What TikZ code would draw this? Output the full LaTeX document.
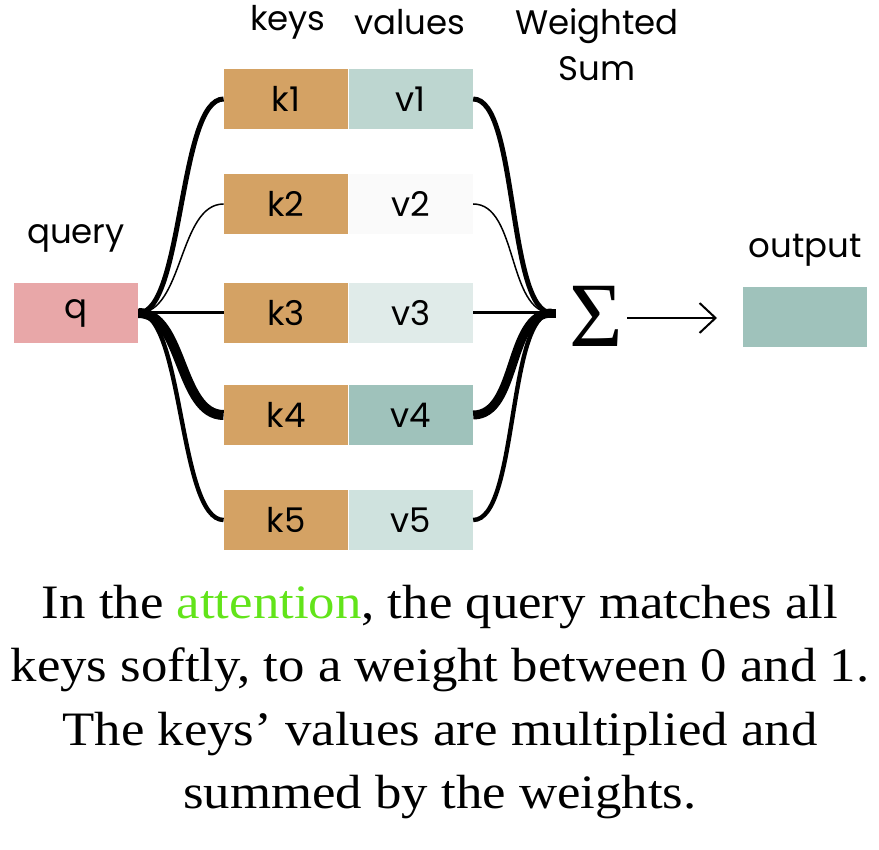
\documentclass[tikz,border=0pt]{standalone}
\usepackage{fontspec}
\setmainfont{Liberation Serif}
\newfontfamily\labelfont{Poppins}
\newfontfamily\capfont[FakeStretch=1.1]{Liberation Serif}
\usetikzlibrary{arrows.meta,positioning}

\definecolor{keycol}{RGB}{212,162,100}
\definecolor{querycol}{RGB}{232,167,168}
\definecolor{vala}{RGB}{189,214,208}
\definecolor{valb}{RGB}{250,250,250}
\definecolor{valc}{RGB}{224,235,233}
\definecolor{vald}{RGB}{159,194,187}
\definecolor{vale}{RGB}{207,226,222}
\definecolor{attncol}{RGB}{98,228,26}

\tikzset{
  cell/.style={minimum width=62pt, minimum height=30pt, inner sep=0pt,
    font=\labelfont\fontsize{17}{20}\selectfont},
  head/.style={font=\labelfont\fontsize{17}{23}\selectfont, align=center},
  link/.style={line cap=butt}
}

\begin{document}
\begin{tikzpicture}[x=0.5pt,y=-0.5pt]
  \useasboundingbox (0,0) rectangle (879,850);
  %--------------- headers ---------------
  \node[head] (keyshead) at (288,22) {keys};
  \node[head] (valshead) at (410,22) {values};
  \node[head] (sumhead) at (597,45) {Weighted\\Sum};
  \node[head] (qhead) at (76,238) {query};
  \node[head] (outhead) at (805,250) {output};

  %--------------- query ---------------
  \node[cell, fill=querycol] (q) at (76,313) {q};

  %--------------- keys and values ---------------
  \foreach \i/\y/\vc in {1/99/vala, 2/204/valb, 3/313/valc, 4/415/vald, 5/520/vale} {
    \node[cell, fill=keycol] (k\i) at (286,\y) {k\i};
    \node[cell, fill=\vc, right=0pt of k\i] (v\i) {v\i};
  }

  %--------------- sum and output ---------------
  \node[font=\fontsize{46}{46}\selectfont, inner sep=0pt] (sig) at (596,316) {Σ};
  \coordinate (sj) at (552,313);
  \coordinate (tip) at (717,318);
  \node[cell, fill=vald] (out) at (805,317) {};

  %--------------- weights ---------------
  \foreach \i/\w/\u in {1/2.5/2.5, 2/0.75/0.75, 3/1.5/1.5, 4/5/4.5, 5/2.2/2.2} {
    \draw[link, line width=\w pt] (q.east) .. controls +(45,0) and +(-45,0) .. (k\i.west);
    \draw[link, line width=\u pt] (v\i.east) .. controls +(45,0) and +(-45,0) .. (sj);
  }
  \fill (q.east) ++(0,-4) rectangle ++(12,8);
  \fill (sj) ++(-4,-4) rectangle ++(8,9);

  % sum -> output
  \draw[-{Straight Barb[length=8pt, width=15pt]}, line width=1pt] (sig.east) ++(4,2) -- (tip);

  %--------------- caption ---------------
  \node[align=center, font=\capfont\fontsize{24}{31.75}\selectfont] (caption) at (440,702)
    {In the \textcolor{attncol}{attention}, the query matches all\\
     keys softly, to a weight between 0 and 1.\\
     The keys’ values are multiplied and\\
     summed by the weights.};
\end{tikzpicture}
\end{document}
